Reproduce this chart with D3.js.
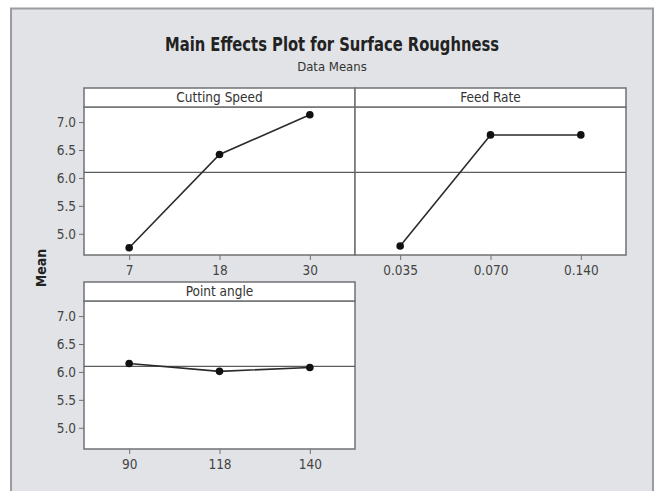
<!DOCTYPE html>
<html>
<head>
<meta charset="utf-8">
<script src="https://cdn.jsdelivr.net/npm/d3@7"></script>
<style>
  html, body { margin: 0; padding: 0; background: #fff; }
  svg text { font-family: "DejaVu Sans Condensed", "DejaVu Sans", sans-serif; }
</style>
</head>
<body>
<div id="chart"></div>
<script>
// factor levels and data means
const factorNames = ["Cutting Speed", "Feed Rate", "Point angle"];
const cuttingLevels = ["7", "18", "30"];
const cuttingMeans = [4.75, 6.42, 7.13];
const feedLevels = ["0.035", "0.070", "0.140"];
const feedMeans = [4.78, 6.77, 6.77];
const angleLevels = ["90", "118", "140"];
const angleMeans = [6.15, 6.01, 6.08];
const grandMean = 6.1;
const yTicks = [5.0, 5.5, 6.0, 6.5, 7.0];

const width = 657;
const height = 491;

const svg = d3
  .select("#chart")
  .append("svg")
  .attr("width", width)
  .attr("height", height);

// outer gray frame
svg
  .append("rect")
  .attr("x", 11)
  .attr("y", 8.5)
  .attr("width", 642)
  .attr("height", 500)
  .attr("fill", "#e1e3e6")
  .attr("stroke", "#9a9c9f")
  .attr("stroke-width", 2);

svg
  .append("text")
  .attr("x", 332)
  .attr("y", 51)
  .attr("text-anchor", "middle")
  .attr("font-size", 19.5)
  .attr("font-weight", "bold")
  .attr("fill", "#222")
  .attr("textLength", 334)
  .attr("lengthAdjust", "spacingAndGlyphs")
  .text("Main Effects Plot for Surface Roughness");

svg
  .append("text")
  .attr("x", 332)
  .attr("y", 71)
  .attr("text-anchor", "middle")
  .attr("font-size", 13)
  .attr("fill", "#333")
  .text("Data Means");

svg
  .append("text")
  .attr("transform", "translate(46, 268) rotate(-90)")
  .attr("text-anchor", "middle")
  .attr("font-size", 14)
  .attr("font-weight", "bold")
  .attr("fill", "#222")
  .text("Mean");

const panels = [
  { name: factorNames[0], levels: cuttingLevels, means: cuttingMeans, col: 0, row: 0 },
  { name: factorNames[1], levels: feedLevels, means: feedMeans, col: 1, row: 0 },
  { name: factorNames[2], levels: angleLevels, means: angleMeans, col: 0, row: 1 },
];

const colX = [84, 355];
const rowY = [88, 282];
const panelW = 271;
const headH = 19;
const plotH = 148;

const yScale = d3.scaleLinear().domain([4.62, 7.27]).range([plotH, 0]);

panels.forEach((p) => {
  const g = svg
    .append("g")
    .attr("transform", `translate(${colX[p.col]}, ${rowY[p.row]})`);

  const plot = g.append("g").attr("transform", `translate(0, ${headH})`);

  const xScale = d3
    .scalePoint()
    .domain(p.levels)
    .range([0, panelW])
    .padding(0.5);

  // header strip
  g.append("rect")
    .attr("width", panelW)
    .attr("height", headH)
    .attr("fill", "#fff")
    .attr("stroke", "#6f7173")
    .attr("stroke-width", 1.5);

  g.append("text")
    .attr("x", panelW / 2)
    .attr("y", 14)
    .attr("text-anchor", "middle")
    .attr("font-size", 13.5)
    .attr("fill", "#333")
    .text(p.name);

  plot
    .append("rect")
    .attr("width", panelW)
    .attr("height", plotH)
    .attr("fill", "#fff")
    .attr("stroke", "#6f7173")
    .attr("stroke-width", 1.5);

  // x axis
  const xAxis = plot
    .append("g")
    .attr("transform", `translate(0, ${plotH})`)
    .call(d3.axisBottom(xScale).tickSize(5).tickPadding(5));
  xAxis.select(".domain").remove();
  xAxis.selectAll("line").attr("stroke", "#6f7173");
  xAxis
    .selectAll("text")
    .attr("font-size", 13.5)
    .attr("fill", "#444")
    .style("font-family", "'DejaVu Sans Condensed', 'DejaVu Sans', sans-serif");

  // y axis only on the left column
  if (p.col === 0) {
    const yAxis = plot
      .append("g")
      .call(
        d3
          .axisLeft(yScale)
          .tickValues(yTicks)
          .tickFormat(d3.format(".1f"))
          .tickSize(5)
          .tickPadding(3)
      );
    yAxis.select(".domain").remove();
    yAxis.selectAll("line").attr("stroke", "#6f7173");
    yAxis
      .selectAll("text")
      .attr("font-size", 13.5)
      .attr("fill", "#444")
      .style("font-family", "'DejaVu Sans Condensed', 'DejaVu Sans', sans-serif");
  }

  // grand mean reference line
  plot
    .append("line")
    .attr("x1", 0)
    .attr("x2", panelW)
    .attr("y1", yScale(grandMean))
    .attr("y2", yScale(grandMean))
    .attr("stroke", "#5a5c5e")
    .attr("stroke-width", 1.2);

  const pts = p.levels.map((l, i) => ({ level: l, mean: p.means[i] }));

  plot
    .append("path")
    .datum(pts)
    .attr("fill", "none")
    .attr("stroke", "#2a2a2a")
    .attr("stroke-width", 1.6)
    .attr(
      "d",
      d3
        .line()
        .x((d) => xScale(d.level))
        .y((d) => yScale(d.mean))
    );

  plot
    .selectAll(".dot")
    .data(pts)
    .enter()
    .append("circle")
    .attr("class", "dot")
    .attr("cx", (d) => xScale(d.level))
    .attr("cy", (d) => yScale(d.mean))
    .attr("r", 3.8)
    .attr("fill", "#111");
});
</script>
</body>
</html>
